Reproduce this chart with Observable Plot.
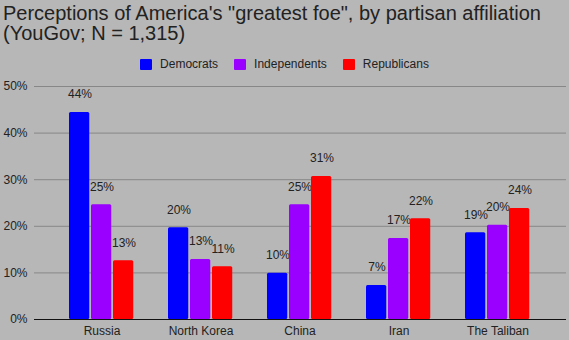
<!DOCTYPE html>
<html>
<head>
<meta charset="utf-8">
<script src="https://cdn.jsdelivr.net/npm/d3@7"></script>
<script src="https://cdn.jsdelivr.net/npm/@observablehq/plot@0.6"></script>
<style>
  html, body { margin: 0; padding: 0; background: #b7b7b7; }
  body { width: 569px; height: 340px; overflow: hidden; font-family: "Liberation Sans", Arial, sans-serif; color: #222; }
  #title { margin: 3px 0 0 3px; font-size: 20px; line-height: 20px; height: 40px; white-space: nowrap; }
  #legend { height: 33px; box-sizing: border-box; padding-top: 9px; display: flex; justify-content: center; font-size: 12px; line-height: 14px; }
  .item { display: flex; align-items: center; margin: 0 8px; }
  .sw { width: 12px; height: 11px; border-radius: 1px; margin-right: 8px; }
  svg { display: block; }
</style>
</head>
<body>
<div id="title">Perceptions of America's "greatest foe", by partisan affiliation<br>(YouGov; N = 1,315)</div>
<div id="legend"></div>
<div id="chart"></div>
<script>
const countries = ["Russia", "North Korea", "China", "Iran", "The Taliban"];
const parties = ["Democrats", "Independents", "Republicans"];
const colors = ["#0000ff", "#9900ff", "#ff0000"];
const democrats = [44.4, 19.7, 9.9, 7.3, 18.6];
const independents = [24.6, 12.9, 24.6, 17.4, 20.2];
const republicans = [12.6, 11.3, 30.7, 21.6, 23.8];
const yTicks = [0, 10, 20, 30, 40, 50];

const series = [democrats, independents, republicans];
const rows = [];
parties.forEach((p, j) => countries.forEach((c, i) => rows.push({country: c, party: p, value: series[j][i]})));

// legend
const legend = document.getElementById("legend");
parties.forEach((p, j) => {
  const it = document.createElement("div");
  it.className = "item";
  it.innerHTML = `<span class="sw" style="background:${colors[j]}"></span><span>${p}</span>`;
  legend.appendChild(it);
});

const pitch = 22;
const marks = [Plot.ruleY(yTicks, {stroke: "#878787", strokeWidth: 1})];
parties.forEach((p, j) => {
  const data = rows.filter(d => d.party === p);
  marks.push(Plot.barY(data, {
    x: "country", y: "value", fill: colors[j], rx: 1.5,
    insetLeft: pitch * j, insetRight: pitch * (2 - j) + 0.75
  }));
  marks.push(Plot.text(data, {
    x: "country", y: "value", text: d => Math.round(d.value) + "%",
    dy: -18, dx: (j - 1) * pitch, fill: "#222", fontSize: 12
  }));
});
marks.push(Plot.ruleY([0], {stroke: "#111", strokeWidth: 1.2}));

const chart = Plot.plot({
  width: 569, height: 264,
  marginTop: 10, marginBottom: 21, marginLeft: 34, marginRight: 3,
  style: {background: "transparent", fontFamily: '"Liberation Sans", Arial, sans-serif', fontSize: "12px", color: "#222"},
  x: {domain: countries, paddingInner: 0.34, paddingOuter: 0.34, label: null, tickSize: 0, tickPadding: 7},
  y: {domain: [0, 50], ticks: yTicks, tickFormat: d => d + "%", label: null, tickSize: 0, tickPadding: 7},
  marks
});
document.getElementById("chart").appendChild(chart);
</script>
</body>
</html>
